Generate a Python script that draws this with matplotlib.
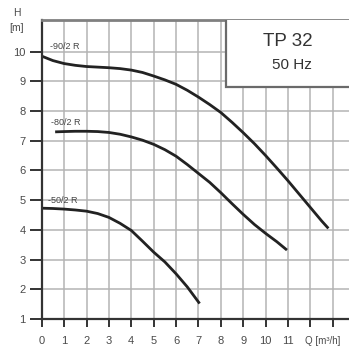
import matplotlib

matplotlib.use('Agg')
import matplotlib.pyplot as plt
from matplotlib.patches import Rectangle
from matplotlib.transforms import blended_transform_factory

plt.rcParams['font.family'] = ['Liberation Sans', 'DejaVu Sans']

# flow Q [m3/h] and head H [m]
q_90 = [0, 0.5, 1, 1.5, 2, 2.5, 3, 3.5, 4, 4.5, 5, 5.5, 6, 6.5, 7, 7.5,
        8, 8.5, 9, 9.5, 10, 10.5, 11, 11.5, 12, 12.5, 12.8]
h_90 = [9.85, 9.7, 9.6, 9.54, 9.5, 9.48, 9.46, 9.43, 9.38, 9.3, 9.18, 9.05,
        8.9, 8.7, 8.47, 8.22, 7.95, 7.62, 7.27, 6.9, 6.5, 6.08, 5.65, 5.2,
        4.75, 4.3, 4.05]

q_80 = [0.6, 1, 1.5, 2, 2.5, 3, 3.5, 4, 4.5, 5, 5.5, 6, 6.5, 7, 7.5, 8,
        8.5, 9, 9.5, 10, 10.5, 10.95]
h_80 = [7.3, 7.31, 7.32, 7.32, 7.31, 7.28, 7.22, 7.13, 7.02, 6.88, 6.7,
        6.48, 6.2, 5.9, 5.6, 5.25, 4.88, 4.52, 4.18, 3.88, 3.6, 3.32]

q_50 = [0, 0.5, 1, 1.5, 2, 2.5, 3, 3.5, 4, 4.5, 5, 5.5, 6, 6.5, 7.05]
h_50 = [4.73, 4.72, 4.7, 4.67, 4.63, 4.55, 4.42, 4.22, 3.98, 3.62, 3.25,
        2.92, 2.52, 2.08, 1.52]

curve_names = ['-90/2 R', '-80/2 R', '-50/2 R']
label_pos = [(0.35, 10.17), (0.4, 7.6), (0.3, 5.0)]

x_ticks = list(range(0, 14))
x_labels = [str(i) for i in range(0, 12)] + ['', '']
y_ticks = list(range(1, 11))

fig = plt.figure(figsize=(3.49, 3.49), dpi=100)
ax = fig.add_axes([0.1195, 0.086, 0.8805, 0.857])
ax.set_xlim(0, 13.72)
ax.set_ylim(1, 11.07)

ax.set_xticks(x_ticks)
ax.set_xticklabels(x_labels)
ax.set_yticks(y_ticks)
ax.grid(True, color='#b4b4b4', linewidth=1.1)
ax.set_axisbelow(True)

ax.tick_params(axis='y', direction='out', length=8.5, width=1.4,
               color='#333333', labelsize=8, labelcolor='#4a4a4a', pad=3)
ax.tick_params(axis='x', direction='out', length=5.5, width=1.4,
               color='#333333', labelsize=8, labelcolor='#4a4a4a', pad=7)

ax.spines['right'].set_visible(False)
ax.spines['top'].set_color('#808080')
ax.spines['top'].set_linewidth(2)
ax.spines['left'].set_color('#333333')
ax.spines['left'].set_linewidth(1.6)
ax.spines['bottom'].set_color('#333333')
ax.spines['bottom'].set_linewidth(1.6)

for qs, hs in [(q_90, h_90), (q_80, h_80), (q_50, h_50)]:
    ax.plot(qs, hs, color='#222222', linewidth=2.0, solid_capstyle='butt')

for name, (lx, ly) in zip(curve_names, label_pos):
    ax.text(lx, ly, name, fontsize=6.5, color='#444444', va='center', ha='left')

# title box in the top right corner
box = Rectangle((8.23, 8.81), 6.0, 3.0, facecolor='white', edgecolor='#6a6a6a',
                linewidth=1.6, zorder=3)
ax.add_patch(box)
ax.text(11.0, 10.34, 'TP 32', fontsize=13.5, color='#333333',
        ha='center', va='center', zorder=4)
ax.text(11.15, 9.55, '50 Hz', fontsize=11, color='#333333',
        ha='center', va='center', zorder=4)

# axis titles
trans = blended_transform_factory(ax.transData, ax.transAxes)
ax.text(11.75, -0.074, 'Q [m³/h]', fontsize=7, color='#4a4a4a',
        ha='left', va='center', transform=trans)
fig.text(17 / 349, 1 - 13 / 349, 'H', fontsize=7.5, color='#4a4a4a',
         ha='center', va='center')
fig.text(17 / 349, 1 - 28 / 349, '[m]', fontsize=7.5, color='#4a4a4a',
         ha='center', va='center')

fig.savefig('out.png', dpi=100)
